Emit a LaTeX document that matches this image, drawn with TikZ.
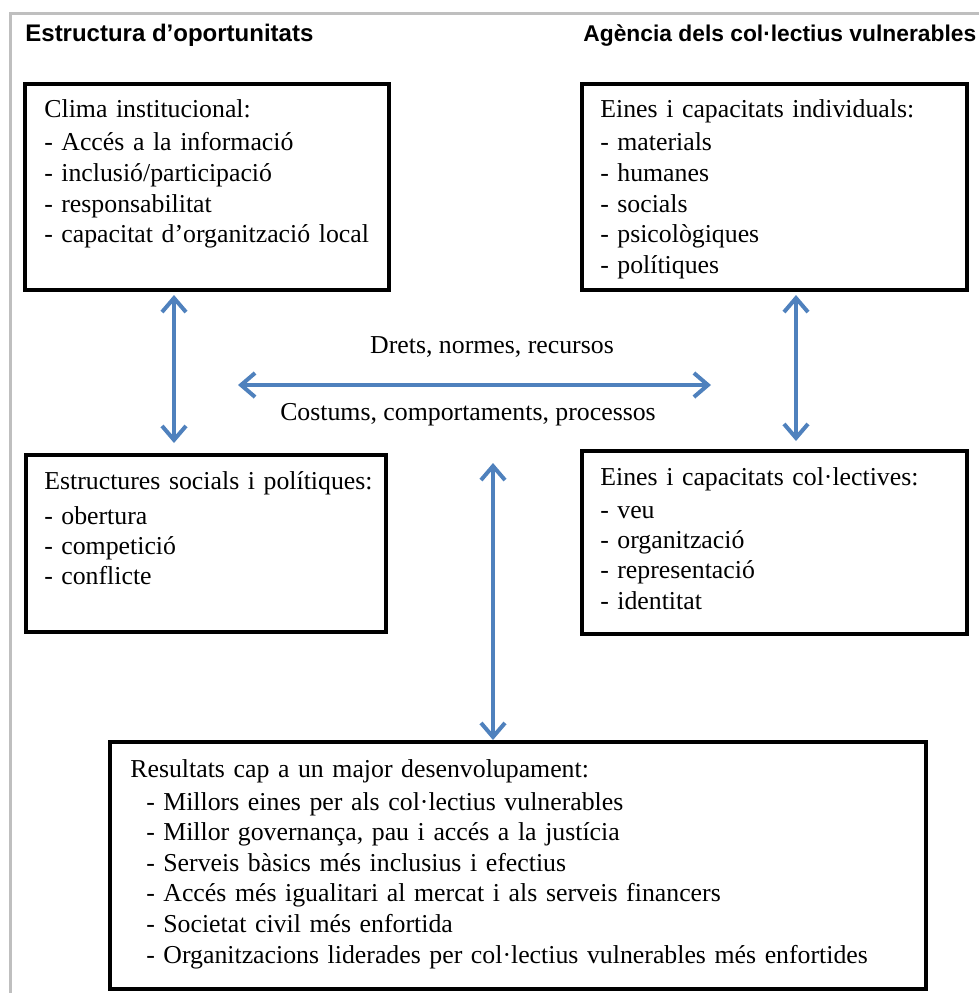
\documentclass[tikz,border=0pt]{standalone}
\usepackage{fontspec}
\setmainfont{Liberation Serif}
\setsansfont{Liberation Sans}
\usetikzlibrary{arrows.meta,fit}
\definecolor{linkblue}{RGB}{79,129,189}
\definecolor{framegrey}{RGB}{191,191,191}
\newcommand{\itm}[1]{\makebox[8.5pt][l]{-}#1}
\newcommand{\subitm}[1]{\hspace*{8pt}\itm{#1}}
\tikzset{
  box/.style={draw,line width=2pt,inner sep=0pt},
  boxtext/.style={anchor=base west,inner sep=0pt,text width=200pt,align=left,
    font=\fontsize{12.9}{15.4}\selectfont},
  head/.style={anchor=base west,inner sep=0pt,font=\sffamily\bfseries\fontsize{12}{14}\selectfont},
  lab/.style={anchor=base,inner sep=0pt,font=\fontsize{12.9}{15}\selectfont},
  link/.style={linkblue,line width=2pt,
    {Straight Barb[length=7pt,width=12pt]}-{Straight Barb[length=7pt,width=12pt]}}
}
\begin{document}
\begin{tikzpicture}[x=0.5pt,y=-0.5pt]
  \useasboundingbox (0,0) rectangle (979,993);
  \draw[framegrey,line width=1.35pt] (979,13.3) -- (10.7,13.3) -- (10.7,993);
  \node[head] (hopp) at (25,41.5) {Estructura d’oportunitats};
  \node[head,font=\sffamily\bfseries\fontsize{11.4}{14}\selectfont] (hage) at (583,41.5)
    {Agència dels col·lectius vulnerables};
  \node[box,fit={(25,84) (389,290)}] (climabox) {};
  \node[box,fit={(582,84) (967,290)}] (eindbox) {};
  \node[box,fit={(26,455) (386,632)}] (estrbox) {};
  \node[box,fit={(582,451) (967,634)}] (ecolbox) {};
  \node[box,fit={(110,742) (926,989)}] (resbox) {};
  \node[boxtext] (clima) at (44,117) {Clima institucional:\\[1.3pt]
    \itm{Accés a la informació}\\ \itm{inclusió/participació}\\
    \itm{responsabilitat}\\ \itm{capacitat d’organització local}};
  \node[boxtext] (eind) at (600,117) {Eines i capacitats individuals:\\[1.3pt]
    \itm{materials}\\ \itm{humanes}\\ \itm{socials}\\
    \itm{psicològiques}\\ \itm{polítiques}};
  \node[boxtext,font=\fontsize{12.9}{15}\selectfont] (estr) at (44,489) {Estructures socials i polítiques:\\[2.5pt]
    \itm{obertura}\\ \itm{competició}\\ \itm{conflicte}};
  \node[boxtext,font=\fontsize{12.9}{15.2}\selectfont] (ecol) at (600,485) {Eines i capacitats col·lectives:\\[1.3pt]
    \itm{veu}\\ \itm{organització}\\ \itm{representació}\\ \itm{identitat}};
  \node[boxtext,text width=400pt,font=\fontsize{12.9}{15.3}\selectfont] (res) at (130,777)
    {Resultats cap a un major desenvolupament:\\[1.2pt]
    \subitm{Millors eines per als col·lectius vulnerables}\\
    \subitm{Millor governança, pau i accés a la justícia}\\
    \subitm{Serveis bàsics més inclusius i efectius}\\
    \subitm{Accés més igualitari al mercat i als serveis financers}\\
    \subitm{Societat civil més enfortida}\\
    \subitm{Organitzacions liderades per col·lectius vulnerables més enfortides}};
  \node[lab] (drets) at (492,353) {Drets, normes, recursos};
  \node[lab] (costums) at (468,420) {Costums, comportaments, processos};
  \coordinate (la) at (174,443);
  \coordinate (ra) at (796,441);
  \coordinate (hl) at (238,385);
  \coordinate (hr) at (711,385);
  \coordinate (ca) at (493,463);
  \begin{scope}[link]
    \draw[shorten <=1.5pt] (climabox.south -| la) -- (la);
    \draw[shorten <=1.5pt] (eindbox.south -| ra) -- (ra);
    \draw (hl) -- (hr);
    \draw (ca) -- (resbox.north -| ca);
  \end{scope}
\end{tikzpicture}
\end{document}
